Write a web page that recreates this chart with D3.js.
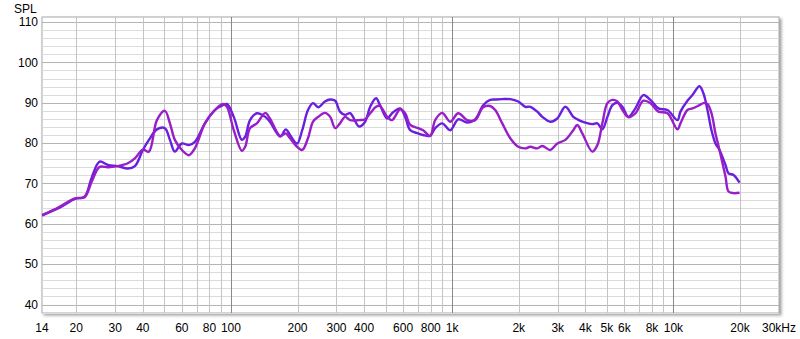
<!DOCTYPE html>
<html>
<head>
<meta charset="utf-8">
<script src="https://cdn.jsdelivr.net/npm/d3@7"></script>
<style>
	body { margin: 0; background: #fff; }
	#chart { width: 800px; height: 339px; }
</style>
</head>
<body>
<div id="chart"></div>
<script>
// frequencies (Hz) shared by both traces
const freqs = [14, 16.8, 19.7, 21.8, 23.5, 25.5, 27.8, 30.8, 34.2, 36.8, 40, 42.6, 46.3, 50.3, 53, 55.8, 60, 64.6, 68.7, 76.3, 84.6, 92, 95.9,
	103, 112, 116, 122, 131, 143, 150, 167, 177, 185, 199, 210, 223, 235, 248, 266, 281, 296, 311, 328, 346, 380, 404, 426, 453, 472, 508, 535,
	582, 613, 646, 702, 739, 795, 838, 901, 980, 1065, 1169, 1271, 1381, 1486, 1565, 1684, 1830, 1989, 2140, 2254, 2425, 2555, 2776, 2987,
	3246, 3527, 3677, 3874, 4300, 4531, 4773, 5029, 5297, 5581, 5879, 6258, 6732, 7314, 7870, 8554, 9396, 10430, 10760, 11570, 12190, 13110,
	13670, 14250, 14860, 15490, 16150, 17190, 17740, 18690, 19890];

const splBlue = [62.2, 64.0, 66.2, 66.7, 71.5, 75.4, 74.6, 74.3, 73.7, 74.3, 78.3, 80.8, 83.4, 83.7, 80.8, 77.9, 79.9, 79.5, 80.3, 84.9, 88.2, 89.4, 89.7,
	86.5, 80.8, 81.6, 85.7, 87.4, 86.5, 85.3, 81.6, 83.4, 82.0, 79.9, 83.2, 88.2, 89.9, 88.9, 90.3, 90.8, 90.5, 87.8, 87.0, 87.4, 84.1, 85.3, 89.0, 91.1, 89.4, 86.1, 87.4,
	88.6, 86.5, 83.2, 82.4, 82.0, 81.8, 83.7, 84.9, 83.2, 85.9, 85.1, 85.9, 89.4, 90.7, 90.8, 90.9, 90.9, 90.3, 89.0, 89.0, 87.8, 86.5, 85.3, 86.1,
	89.0, 86.5, 85.9, 85.3, 84.7, 84.9, 83.4, 86.5, 89.4, 90.0, 89.0, 86.5, 88.6, 91.9, 90.7, 88.6, 88.2, 85.7, 87.8, 90.5, 91.9, 94.1,
	92.3, 88.2, 83.2, 79.9, 78.3, 74.6, 72.5, 72.1, 70.2];

const splPurple = [62.0, 64.2, 66.3, 66.6, 70.5, 74.1, 74.0, 74.3, 75.0, 76.2, 78.4, 77.9, 85.7, 88.0, 84.9, 80.8, 78.3, 77.0, 78.7, 84.9, 88.2, 89.7, 89.0,
	83.2, 78.1, 79.1, 83.7, 84.9, 87.5, 86.1, 81.8, 82.4, 81.2, 79.1, 78.3, 81.2, 85.3, 86.5, 87.5, 86.5, 83.7, 84.9, 86.5, 85.7, 85.7, 85.9, 87.4, 89.0, 89.2, 86.5, 85.7,
	88.4, 87.4, 84.5, 83.7, 83.2, 81.8, 85.7, 87.5, 85.3, 87.4, 85.7, 85.7, 88.9, 89.2, 88.2, 84.9, 81.2, 79.1, 78.7, 79.1, 78.7, 79.3, 78.3, 79.9,
	80.8, 83.2, 84.5, 82.4, 77.9, 79.5, 84.9, 89.9, 90.7, 90.3, 88.2, 86.4, 87.4, 90.5, 89.9, 87.8, 87.4, 83.4, 84.9, 88.2, 88.6, 89.4,
	89.9, 89.7, 87.4, 82.4, 78.3, 71.7, 68.0, 67.6, 67.7];

const xTickValues = [14, 20, 30, 40, 60, 80, 100, 200, 300, 400, 600, 800, 1000, 2000, 3000, 4000, 5000, 6000, 8000, 10000, 20000, 30000];
const xTickLabels = ["14", "20", "30", "40", "60", "80", "100", "200", "300", "400", "600", "800", "1k", "2k", "3k", "4k", "5k", "6k", "8k", "10k", "20k", "30kHz"];
const yTickValues = [40, 50, 60, 70, 80, 90, 100, 110];

makeChart();

function makeChart() {
	const width = 800;
	const height = 339;
	const left = 42, top = 17, right = 779, bottom = 313;

	const x = d3.scaleLog().domain([14, 30000]).range([left, right]);
	const y = d3.scaleLinear().domain([37.9, 111.25]).range([bottom, top]);

	const svg = d3.create("svg")
		.attr("width", width)
		.attr("height", height)
		.style("font", "12px 'Liberation Sans', Arial, sans-serif");

	const defs = svg.append("defs");
	const shadow = defs.append("filter").attr("id", "shadow")
		.attr("x", "-5%").attr("y", "-5%").attr("width", "110%").attr("height", "110%");
	shadow.append("feDropShadow")
		.attr("dx", 2).attr("dy", 2)
		.attr("stdDeviation", 1.5)
		.attr("flood-color", "#777")
		.attr("flood-opacity", 0.7);
	defs.append("clipPath").attr("id", "clip")
		.append("rect")
		.attr("x", left).attr("y", top)
		.attr("width", right - left).attr("height", bottom - top);

	// plot frame with shadow
	svg.append("rect")
		.attr("x", left).attr("y", top)
		.attr("width", right - left).attr("height", bottom - top)
		.attr("fill", "#fff")
		.attr("stroke", "#a8a8a8")
		.attr("filter", "url(#shadow)");

	// grid
	const grid = svg.append("g").attr("shape-rendering", "crispEdges");
	const hLines = d3.range(38, 112, 2);
	grid.selectAll(".h")
		.data(hLines)
		.join("line")
			.attr("x1", left).attr("x2", right)
			.attr("y1", d => Math.round(y(d)) + 0.5)
			.attr("y2", d => Math.round(y(d)) + 0.5)
			.attr("stroke", d => d % 10 === 0 ? "#b4b4b4" : "#dcdcdc");

	const vLines = [];
	[10, 100, 1000, 10000].forEach(dec => {
		for (let k = 1; k <= 9; k++) {
			const f = dec * k;
			if (f > 14 && f < 30000) vLines.push(f);
		}
	});
	grid.selectAll(".v")
		.data(vLines)
		.join("line")
			.attr("y1", top).attr("y2", bottom)
			.attr("x1", d => Math.round(x(d)) + 0.5)
			.attr("x2", d => Math.round(x(d)) + 0.5)
			.attr("stroke", d => [100, 1000, 10000].includes(d) ? "#888" : "#c4c4c4");

	// traces
	const line = d3.line()
		.x((d, i) => x(freqs[i]))
		.y(d => y(d))
		.curve(d3.curveCatmullRom.alpha(0.5));

	const traces = svg.append("g").attr("clip-path", "url(#clip)");
	traces.append("path")
		.attr("d", line(splBlue))
		.attr("fill", "none")
		.attr("stroke", "#6a1fde")
		.attr("stroke-width", 2.4)
		.attr("stroke-linejoin", "round");
	traces.append("path")
		.attr("d", line(splPurple))
		.attr("fill", "none")
		.attr("stroke", "#981ec8")
		.attr("stroke-width", 2.4)
		.attr("stroke-linejoin", "round");

	// axis labels
	svg.append("g")
		.selectAll("text")
		.data(yTickValues)
		.join("text")
			.attr("x", 38)
			.attr("y", d => y(d))
			.attr("dy", "0.35em")
			.attr("text-anchor", "end")
			.attr("fill", "#000")
			.text(d => d);

	svg.append("g")
		.selectAll("text")
		.data(xTickValues)
		.join("text")
			.attr("x", d => x(d))
			.attr("dx", (d, i) => i === xTickValues.length - 1 ? -17 : 0)
			.attr("y", 332)
			.attr("text-anchor", (d, i) => i === xTickValues.length - 1 ? "start" : "middle")
			.attr("fill", "#000")
			.text((d, i) => xTickLabels[i]);

	svg.append("text")
		.attr("x", 14)
		.attr("y", 13)
		.attr("fill", "#000")
		.text("SPL");

	d3.select("#chart").node().appendChild(svg.node());
}
</script>
</body>
</html>
